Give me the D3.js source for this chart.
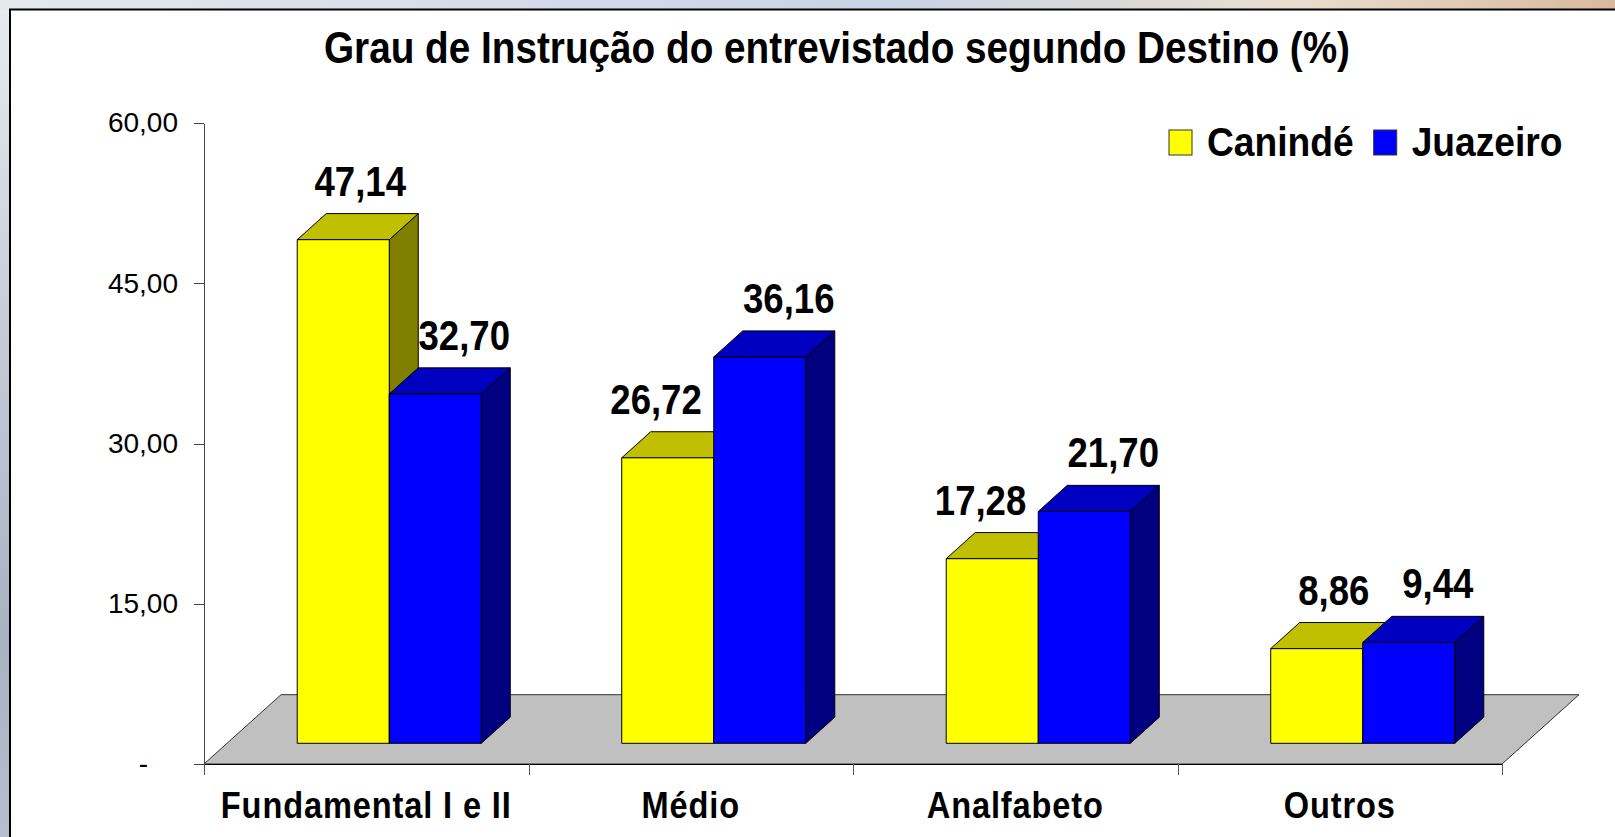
<!doctype html>
<html>
<head>
<meta charset="utf-8">
<style>
    html, body {margin:0; padding:0;}
    body {width:1615px; height:837px; overflow:hidden;
          background: linear-gradient(90deg, #e6e8ec 0%, #d6dce8 30%, #c9d3e5 55%, #e8dece 80%, #d9b99d 100%);}
    svg {position:absolute; left:0; top:0; font-family:"Liberation Sans", Arial, sans-serif;}
    .bar path {stroke:#000; stroke-width:1; stroke-linejoin:round;}
    .floor {fill:#c0c0c0; stroke:#333; stroke-width:1;}
    .yaxis path, .yaxis line {stroke:#444; shape-rendering:crispEdges;}
    .xaxis path {stroke:#000; shape-rendering:crispEdges;}
    .xaxis line {stroke:#555; shape-rendering:crispEdges;}
</style>
<script src="https://d3js.org/d3.v7.min.js"></script>
</head>
<body>
<script>
    // data
    var categories = ["Fundamental I e II", "Médio", "Analfabeto", "Outros"];
    var seriesNames = ["Canindé", "Juazeiro"];
    var caninde = [47.14, 26.72, 17.28, 8.86];
    var juazeiro = [32.70, 36.16, 21.70, 9.44];
    var yTicks = [0, 15, 30, 45, 60];
    var title = "Grau de Instrução do entrevistado segundo Destino (%)";

    //globals
    var W = 1615, H = 837;
    var plotLeft = 204, plotRight = 1502, plotBase = 764, plotTop = 123;
    var slope = 0.9;          // dy per dx going into depth
    var floorDepth = 77;
    var barOff = 23, barDepth = 29;
    var colors = {
        "Canindé":  {front:"#ffff00", top:"#c0c000", side:"#808000", labelShift:17},
        "Juazeiro": {front:"#0000ff", top:"#0000c0", side:"#000080", labelShift:29}
    };
    var values = {"Canindé": caninde, "Juazeiro": juazeiro};

    var svg = d3.select("body").append("svg").attr("width", W).attr("height", H);

    // background strip on the left + white chart box
    var defs = svg.append("defs");
    var lg = defs.append("linearGradient").attr("id","leftbg").attr("x1",0).attr("y1",0).attr("x2",0).attr("y2",1);
    lg.append("stop").attr("offset","0%").attr("stop-color","#e8eaee");
    lg.append("stop").attr("offset","40%").attr("stop-color","#c4cad6");
    lg.append("stop").attr("offset","75%").attr("stop-color","#a9b2c2");
    lg.append("stop").attr("offset","100%").attr("stop-color","#b8bfcc");
    svg.append("rect").attr("x",0).attr("y",9).attr("width",10).attr("height",H).attr("fill","url(#leftbg)");
    svg.append("rect").attr("x",10).attr("y",9.5).attr("width",W+20).attr("height",H+20)
        .attr("fill","#fff").attr("stroke","#000").attr("stroke-width",2);

    function squeeze(sel, x, y, sx) {
        return sel.attr("transform", "translate(" + x + "," + y + ") scale(" + sx + ",1)");
    }

    // scales
    var y = d3.scaleLinear().domain([0, 60]).range([plotBase, plotTop]);
    var x0 = d3.scaleBand().domain(categories).range([plotLeft, plotRight]).paddingInner(0).paddingOuter(0);
    var x1 = d3.scaleBand().domain(seriesNames).range([0, x0.bandwidth()]).paddingInner(0).paddingOuter(0.763);
    var xEdge = d3.scaleLinear().domain([0, categories.length]).range([plotLeft, plotRight]);

    var fdy = floorDepth * slope;

    // floor
    svg.append("path").attr("class","floor")
        .attr("d", d3.line()([
            [plotLeft, plotBase], [plotRight, plotBase],
            [plotRight + floorDepth, plotBase - fdy], [plotLeft + floorDepth, plotBase - fdy]
        ]) + "Z");

    // y axis
    var yAxis = svg.append("g").attr("class","yaxis")
        .attr("transform","translate(" + plotLeft + ",0)")
        .call(d3.axisLeft(y).tickValues(yTicks).tickSize(10).tickSizeOuter(0).tickPadding(16)
            .tickFormat(function(d){ return d === 0 ? "-" : d3.format(".2f")(d).replace(".", ","); }));
    yAxis.selectAll("text").attr("font-size", 28).attr("fill","#000")
        .attr("font-family","Liberation Sans, Arial, sans-serif");
    yAxis.selectAll(".tick").filter(function(d){ return d === 0; }).select("text").attr("x", -56);

    // x axis
    var xAxis = svg.append("g").attr("class","xaxis")
        .attr("transform","translate(0," + plotBase + ")")
        .call(d3.axisBottom(xEdge).tickValues(d3.range(categories.length + 1)).tickSize(11).tickSizeOuter(0).tickFormat(""));

    // bars
    var bx = barOff, by = barOff * slope;
    var dx = barDepth, dy = barDepth * slope;
    var bw = x1.bandwidth();
    categories.forEach(function(cat, i) {
        seriesNames.forEach(function(s) {
            var v = values[s][i];
            var xl = x0(cat) + x1(s) + bx;
            var xr = xl + bw;
            var yt = y(v) - by;
            var yb = y(0) - by;
            var g = svg.append("g").attr("class","bar");
            g.append("path").attr("fill", colors[s].side)
                .attr("d", d3.line()([[xr, yt], [xr + dx, yt - dy], [xr + dx, yb - dy], [xr, yb]]) + "Z");
            g.append("path").attr("fill", colors[s].top)
                .attr("d", d3.line()([[xl, yt], [xr, yt], [xr + dx, yt - dy], [xl + dx, yt - dy]]) + "Z");
            g.append("path").attr("fill", colors[s].front)
                .attr("d", d3.line()([[xl, yt], [xr, yt], [xr, yb], [xl, yb]]) + "Z");
        });
    });

    // data labels (left label slides away from a taller neighbour)
    var labelSx = 0.87;
    categories.forEach(function(cat, i) {
        seriesNames.forEach(function(s, k) {
            var v = values[s][i];
            var cx = x0(cat) + x1(s) + bx + bw / 2 + colors[s].labelShift;
            var base = y(v) - by - 44;
            var t = svg.append("text").attr("text-anchor","middle")
                .attr("font-size", 42).attr("font-weight","bold")
                .text(d3.format(".2f")(v).replace(".", ","));
            var half = t.node().getComputedTextLength() * labelSx / 2;
            var next = seriesNames[k + 1];
            if (next && y(values[next][i]) - by < base) {
                var limit = x0(cat) + x1(next) + bx - 12;
                if (cx + half > limit) cx = limit - half;
            }
            squeeze(t, cx, base, labelSx);
        });
    });

    // category labels
    categories.forEach(function(cat) {
        var t = svg.append("text").attr("text-anchor","middle")
            .attr("font-size", 37).attr("font-weight","bold").attr("letter-spacing", 1)
            .text(cat);
        squeeze(t, x0(cat) + x0.bandwidth() / 2, 818, 0.88);
    });

    // title
    squeeze(svg.append("text").attr("text-anchor","middle")
        .attr("font-size", 44).attr("font-weight","bold").text(title), 837, 63, 0.88);

    // legend
    var lx = 1169;
    seriesNames.forEach(function(s) {
        svg.append("rect").attr("x", lx).attr("y", 130).attr("width", 23).attr("height", 25)
            .attr("fill", colors[s].front).attr("stroke","#333").attr("stroke-width",1);
        var t = svg.append("text").attr("font-size", 40).attr("font-weight","bold").text(s);
        squeeze(t, lx + 38, 156, 0.93);
        lx = lx + 38 + t.node().getComputedTextLength() * 0.93 + 20;
    });
</script>
</body>
</html>
